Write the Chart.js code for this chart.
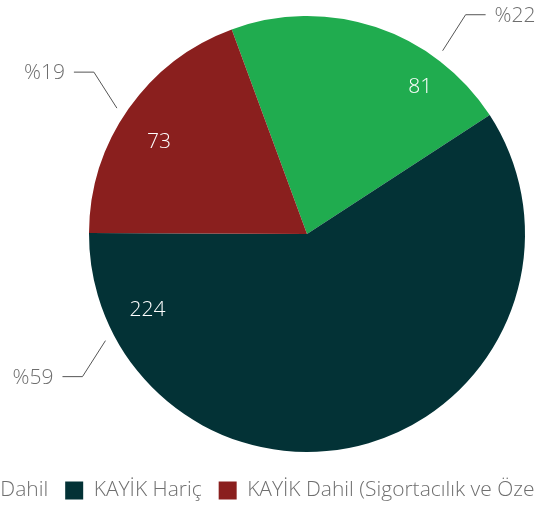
<!DOCTYPE html>
<html>
<head>
<meta charset="utf-8">
<script src="https://cdn.jsdelivr.net/npm/chart.js@4"></script>
<style>
  html, body { margin: 0; padding: 0; background: #fff; overflow: hidden; width: 535px; height: 511px; }
  #wrap { position: absolute; top: 0; left: -104px; width: 1000px; height: 511px; }
</style>
</head>
<body>
<div id="wrap"><canvas id="pie" width="1000" height="511"></canvas></div>
<script>
const categories = ['KAYİK Dahil', 'KAYİK Hariç', 'KAYİK Dahil (Sigortacılık ve Özel Emeklilik Hariç)'];
const values = [81, 224, 73];
const percentLabels = ['%22', '%59', '%19'];
const colors = ['#20ac4f', '#033236', '#8a1f1e'];
// where along each slice the labels sit (0 = slice start, 1 = slice end)
const outerSpots = [0.735, 0.868, 0.478];
const innerSpots = [0.75, 0.88, 0.455];
const innerRadius = [0.85, 0.81, 0.80];

const fontFamily = '"Open Sans", Lato, sans-serif';

const sliceLabels = {
    id: 'sliceLabels',
    afterDatasetsDraw(chart) {
        const ctx = chart.ctx;
        const meta = chart.getDatasetMeta(0);
        meta.data.forEach((arc, i) => {
            const span = arc.endAngle - arc.startAngle;
            const r = arc.outerRadius;
            ctx.save();
            // value inside slice
            const ai = arc.startAngle + innerSpots[i] * span;
            ctx.font = '300 21px ' + fontFamily;
            ctx.fillStyle = '#ffffff';
            ctx.textAlign = 'center';
            ctx.textBaseline = 'middle';
            ctx.fillText(String(values[i]),
                arc.x + Math.cos(ai) * r * innerRadius[i],
                arc.y + Math.sin(ai) * r * innerRadius[i]);
            // leader line + percent outside
            const a = arc.startAngle + outerSpots[i] * span;
            const cos = Math.cos(a), sin = Math.sin(a);
            const dx = cos >= 0 ? 1 : -1;
            const dy = sin >= 0 ? 1 : -1;
            const x1 = arc.x + cos * (r + 10), y1 = arc.y + sin * (r + 10);
            const x2 = x1 + dx * 23, y2 = y1 + dy * 36;
            const x3 = x2 + dx * 20;
            ctx.strokeStyle = '#555';
            ctx.lineWidth = 1;
            ctx.beginPath();
            ctx.moveTo(x1, y1);
            ctx.lineTo(x2, y2);
            ctx.lineTo(x3, y2);
            ctx.stroke();
            ctx.fillStyle = '#6e6e6e';
            ctx.textAlign = dx > 0 ? 'left' : 'right';
            ctx.fillText(percentLabels[i], x3 + dx * 9, y2 + 1);
            ctx.restore();
        });
    }
};

new Chart(document.getElementById('pie'), {
    type: 'pie',
    data: {
        labels: categories,
        datasets: [{
            data: values,
            backgroundColor: colors,
            borderWidth: 0
        }]
    },
    options: {
        responsive: false,
        animation: false,
        rotation: -20.2,
        radius: 218,
        layout: { padding: { top: 5, bottom: 0, left: 0, right: 178 } },
        plugins: {
            tooltip: { enabled: false },
            legend: {
                position: 'bottom',
                align: 'start',
                labels: {
                    boxWidth: 18,
                    boxHeight: 18,
                    padding: 17,
                    color: '#6f6f6f',
                    font: { family: fontFamily, size: 21, weight: '300' }
                }
            }
        }
    },
    plugins: [sliceLabels]
});
</script>
</body>
</html>
